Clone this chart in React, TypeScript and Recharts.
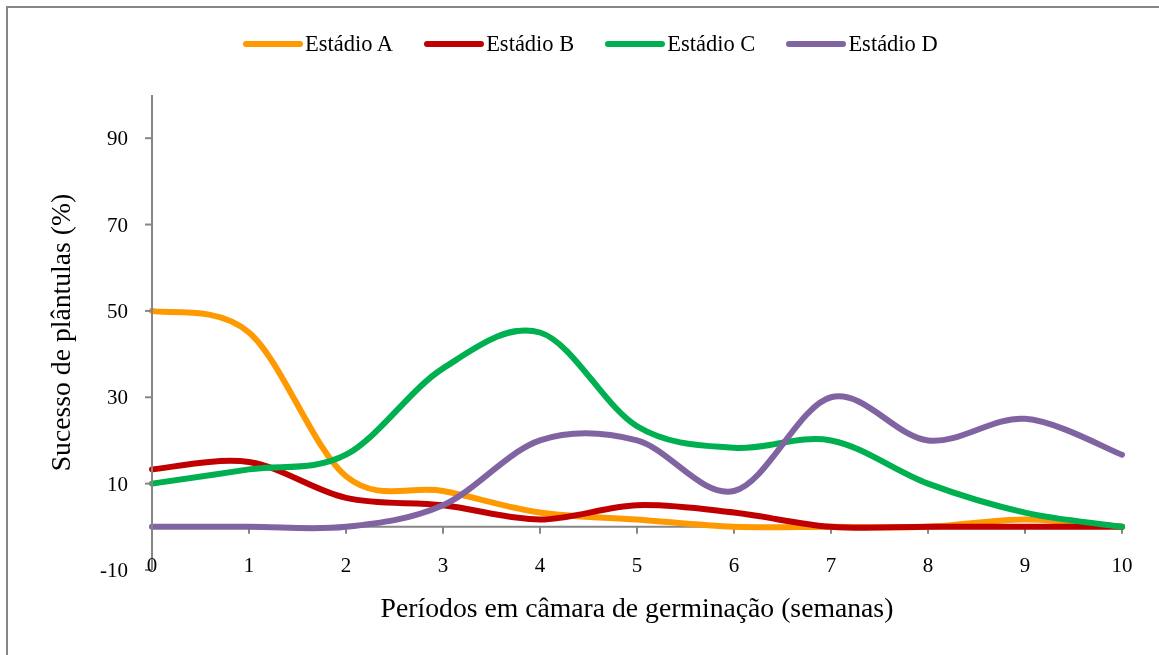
import React from 'react';
import { LineChart, Line, XAxis, YAxis, ReferenceLine } from 'recharts';

const weeks = [0, 1, 2, 3, 4, 5, 6, 7, 8, 9, 10];
const estadioA = [50, 45, 11.7, 8.3, 3.3, 1.7, 0, 0, 0, 1.7, 0];
const estadioB = [13.3, 15, 6.7, 5, 1.7, 5, 3.3, 0, 0, 0, 0];
const estadioC = [10, 13.3, 16.7, 36.7, 45, 23.3, 18.3, 20, 10, 3.3, 0];
const estadioD = [0, 0, 0, 5, 20, 20, 8.3, 30, 20, 25, 16.7];
const yTicks = [-10, 10, 30, 50, 70, 90];
const seriesNames = ['Estádio A', 'Estádio B', 'Estádio C', 'Estádio D'];
const seriesKeys = ['A', 'B', 'C', 'D'];
const seriesColors = ['#FF9900', '#C00000', '#00B050', '#8064A2'];
const xTitle = 'Períodos em câmara de germinação (semanas)';
const yTitle = 'Sucesso de plântulas (%)';

const data = weeks.map((w, i) => ({
  week: w,
  A: estadioA[i],
  B: estadioB[i],
  C: estadioC[i],
  D: estadioD[i],
}));

const FONT = "'Liberation Serif', serif";
const AXIS = '#868686';

// Excel-like smoothed line (Catmull-Rom through every point)
const excelSmooth = (context: any) => {
  let pts: number[][] = [];
  return {
    areaStart() {},
    areaEnd() {},
    lineStart() {
      pts = [];
    },
    point(x: number, y: number) {
      pts.push([+x, +y]);
    },
    lineEnd() {
      const n = pts.length;
      if (!n) return;
      context.moveTo(pts[0][0], pts[0][1]);
      if (n === 1) {
        context.lineTo(pts[0][0], pts[0][1]);
        return;
      }
      for (let i = 0; i < n - 1; i++) {
        const p0 = pts[i - 1] || pts[i];
        const p1 = pts[i];
        const p2 = pts[i + 1];
        const p3 = pts[i + 2] || pts[i + 1];
        context.bezierCurveTo(
          p1[0] + (p2[0] - p0[0]) / 6,
          p1[1] + (p2[1] - p0[1]) / 6,
          p2[0] - (p3[0] - p1[0]) / 6,
          p2[1] - (p3[1] - p1[1]) / 6,
          p2[0],
          p2[1]
        );
      }
    },
  };
};

const XTick = (props: any) => (
  <text x={props.x} y={props.y} dy={2} textAnchor="middle" fontSize={21} fill="#000" fontFamily={FONT}>
    {props.payload.value}
  </text>
);

const YTick = (props: any) => (
  <text x={props.x} y={props.y} dy={7} textAnchor="end" fontSize={21} fill="#000" fontFamily={FONT}>
    {props.payload.value}
  </text>
);

const YTitle = (props: any) => {
  const vb = props.viewBox;
  const cx = vb.x + 52;
  const cy = vb.y + vb.height / 2;
  return (
    <text x={cx} y={cy} transform={`rotate(-90 ${cx} ${cy})`} textAnchor="middle" dominantBaseline="central" fontSize={27.7} fill="#000" fontFamily={FONT}>
      {yTitle}
    </text>
  );
};

const XTitle = (props: any) => {
  const vb = props.viewBox;
  const cx = vb.x + vb.width / 2;
  const cy = vb.y + 37;
  return (
    <text x={cx} y={cy} textAnchor="middle" dominantBaseline="central" fontSize={27.7} fill="#000" fontFamily={FONT}>
      {xTitle}
    </text>
  );
};

export default function App() {
  return (
    <div style={{ position: 'relative', width: 1149, height: 639, fontFamily: FONT }}>
      <div
        style={{
          position: 'fixed',
          left: 6,
          top: 6,
          width: 1200,
          height: 700,
          borderLeft: `2px solid ${AXIS}`,
          borderTop: `2px solid ${AXIS}`,
          pointerEvents: 'none',
          boxSizing: 'border-box',
        }}
      />
      <div
        style={{
          position: 'absolute',
          top: 24,
          left: 235,
          height: 24,
          display: 'flex',
          alignItems: 'center',
          gap: 31,
          fontSize: 22.5,
          color: '#000',
          whiteSpace: 'nowrap',
        }}
      >
        {seriesNames.map((name, i) => (
          <div key={name} style={{ display: 'flex', alignItems: 'center' }}>
            <svg width={60} height={8} style={{ display: 'block' }}>
              <line x1={3} y1={4} x2={57} y2={4} stroke={seriesColors[i]} strokeWidth={6} strokeLinecap="round" />
            </svg>
            <span style={{ marginLeft: 2, lineHeight: '24px' }}>{name}</span>
          </div>
        ))}
      </div>
      <LineChart width={1149} height={639} data={data} margin={{ top: 87, right: 35, bottom: 37, left: 0 }}>
        <XAxis
          dataKey="week"
          type="number"
          domain={[0, 10]}
          ticks={weeks}
          interval={0}
          tick={<XTick />}
          tickLine={false}
          axisLine={false}
          tickSize={0}
          tickMargin={0}
          height={40}
          label={{ content: XTitle }}
        />
        <YAxis
          type="number"
          domain={[-10, 100]}
          ticks={yTicks}
          interval={0}
          width={144}
          tick={<YTick />}
          tickSize={7}
          tickMargin={17}
          axisLine={{ stroke: AXIS, strokeWidth: 2 }}
          tickLine={{ stroke: AXIS, strokeWidth: 2 }}
          label={{ content: YTitle }}
        />
        <ReferenceLine y={0} stroke={AXIS} strokeWidth={2} />
        {weeks.map((w) => (
          <ReferenceLine
            key={'t' + w}
            segment={[
              { x: w, y: 0 },
              { x: w, y: -1.6 },
            ]}
            stroke={AXIS}
            strokeWidth={2}
          />
        ))}
        {seriesKeys.map((k, i) => (
          <Line
            key={k}
            dataKey={k}
            name={seriesNames[i]}
            type={excelSmooth as any}
            stroke={seriesColors[i]}
            strokeWidth={6}
            strokeLinecap="round"
            dot={false}
            activeDot={false}
            isAnimationActive={false}
          />
        ))}
      </LineChart>
    </div>
  );
}
